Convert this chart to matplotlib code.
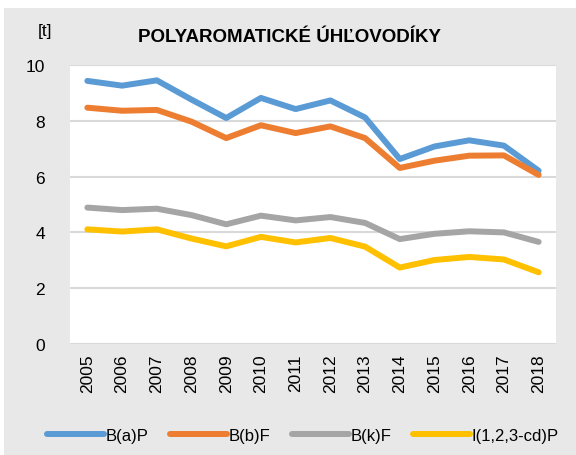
import matplotlib
matplotlib.use('Agg')
import matplotlib.pyplot as plt
from matplotlib.patches import Rectangle

plt.rcParams['font.family'] = ['Liberation Sans Narrow', 'Liberation Sans', 'DejaVu Sans']

years = [str(y) for y in range(2005, 2019)]
bap = [9.43, 9.26, 9.45, 8.76, 8.10, 8.82, 8.42, 8.73, 8.12, 6.63, 7.08, 7.30, 7.11, 6.21]
bbf = [8.47, 8.36, 8.39, 7.97, 7.38, 7.84, 7.56, 7.80, 7.38, 6.31, 6.57, 6.75, 6.76, 6.06]
bkf = [4.89, 4.80, 4.85, 4.62, 4.29, 4.60, 4.43, 4.55, 4.34, 3.76, 3.95, 4.04, 4.00, 3.66]
icdp = [4.11, 4.03, 4.11, 3.78, 3.50, 3.84, 3.64, 3.80, 3.49, 2.74, 3.01, 3.12, 3.03, 2.57]

series = [('B(a)P', bap, '#5b9bd5'), ('B(b)F', bbf, '#ed7d31'),
          ('B(k)F', bkf, '#a5a5a5'), ('I(1,2,3-cd)P', icdp, '#ffc000')]

fig = plt.figure(figsize=(5.76, 4.56), dpi=100)
fig.patch.set_facecolor('white')
# gray panel behind everything
fig.patches.append(Rectangle((4 / 576, 0), 1, 1 - 9 / 456, transform=fig.transFigure,
                             facecolor='#e8e8e8', edgecolor='none', zorder=-1))

ax = fig.add_axes([70 / 576, 1 - 345 / 456, 486 / 576, 279 / 456])
ax.set_facecolor('white')

x = list(range(len(years)))
for name, vals, col in series:
    ax.plot(x, vals, color=col, lw=4.3, label=name, solid_capstyle='round')

ax.set_xlim(-0.5, len(years) - 0.5)
ax.set_ylim(0, 10)
ax.set_yticks([0, 2, 4, 6, 8, 10])
ax.set_xticks(x)
ax.set_xticklabels(years, rotation=90)
ax.tick_params(axis='both', length=0, labelsize=12.5)
ax.tick_params(axis='y', pad=18)
ax.tick_params(axis='x', pad=7)
ax.grid(axis='y', color='#d9d9d9', lw=1.5)
ax.set_axisbelow(True)
for s in ax.spines.values():
    s.set_visible(False)

fig.text(0.503, 0.917, 'POLYAROMATICKÉ ÚHĽOVODÍKY', ha='center', va='center',
         fontsize=13.5, fontweight='bold')
fig.text(0.078, 0.93, '[t]', ha='center', va='center', fontsize=12.5)

fig.legend(loc='center', bbox_to_anchor=(0.526, 0.043), ncol=4, frameon=False,
           fontsize=12, handlelength=3.4, handletextpad=0.1, columnspacing=1.3)

fig.savefig('out.png', dpi=100)
